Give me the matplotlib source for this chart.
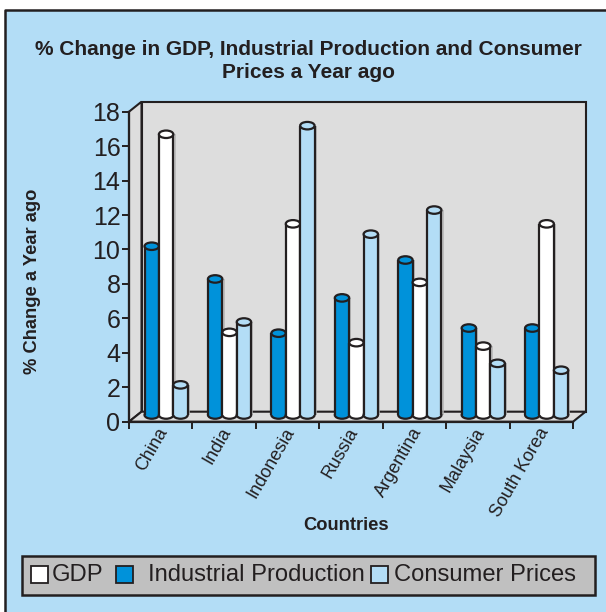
import numpy as np
import matplotlib
matplotlib.use("Agg")
import matplotlib.pyplot as plt
from matplotlib.patches import Polygon, Rectangle, Ellipse

plt.rcParams['font.family'] = ['Liberation Sans', 'DejaVu Sans']

countries = ["China", "India", "Indonesia", "Russia", "Argentina", "Malaysia", "South Korea"]
industrial = [9.8, 7.9, 4.75, 6.8, 9.0, 5.05, 5.05]
gdp = [16.3, 4.8, 11.1, 4.2, 7.7, 4.0, 11.1]
consumer = [1.75, 5.4, 16.8, 10.5, 11.9, 3.0, 2.6]
yticks = list(range(0, 20, 2))

W, H = 606, 612
BG = "#b3ddf6"
INK = "#231f20"
BLUE = "#0092da"
WALL = "#dddddd"

fig = plt.figure(figsize=(W / 100, H / 100), dpi=100, facecolor="white")


def fx(px):
    return px / W


def fy(py):
    return 1 - py / H


# outer panel, open on the right and at the bottom
fig.add_artist(Rectangle((fx(5), 0), fx(601), fy(9.5), transform=fig.transFigure,
                         facecolor=BG, edgecolor="none", zorder=-2))
fig.add_artist(plt.Line2D([fx(5), fx(5), 1], [0, fy(9.5), fy(9.5)], transform=fig.transFigure,
                          color=INK, lw=1.8, zorder=-1))

# front plane of the plot box
left, right, top, bottom = 129, 573, 111.7, 421.7
ax = fig.add_axes([fx(left), fy(bottom), fx(right - left), fy(top) - fy(bottom)])
ax.set_xlim(0, 7)
ax.set_ylim(0, 18)
ax.patch.set_visible(False)

px_x = 7 / (right - left)
px_y = 18 / (bottom - top)
dx = 12.5 * px_x
dy = 10 * px_y

# walls and floor
wall_kw = dict(facecolor=WALL, edgecolor=INK, lw=1.5, clip_on=False, zorder=1, joinstyle="miter")
ax.add_patch(Rectangle((dx, dy), 7, 18, **wall_kw))
ax.add_patch(Polygon([(0, 0), (dx, dy), (dx, 18 + dy), (0, 18)], **wall_kw))
ax.add_patch(Polygon([(0, 0), (7, 0), (7 + dx, dy), (dx, dy)], **wall_kw))

# cylinders, left to right within each group
base = 6.7 * px_y
bar_w = 14.4 * px_x
ell_w = bar_w
ell_h = 7.5 * px_y
offsets = [-1, 0, 1]
group_shift = 5.4 * px_x
series = [(industrial, BLUE), (gdp, "white"), (consumer, BG)]
idx = np.arange(len(countries)) + 0.5 + group_shift

for off, (vals, col) in zip(offsets, series):
    xs = idx + off * bar_w
    z = 3 + off * 0.1
    for x, v in zip(xs, vals):
        ax.vlines(x + bar_w / 2 + 1.2 * px_x, base, base + v, color="#b4b4b4", lw=1.1, zorder=z,
                  clip_on=False)
        ax.add_patch(Ellipse((x, base), ell_w, ell_h, facecolor=col, edgecolor=INK, lw=1.6,
                             zorder=z, clip_on=False))
    ax.bar(xs, vals, width=bar_w, bottom=base, color=col, edgecolor="none", zorder=z,
           clip_on=False)
    for x, v in zip(xs, vals):
        ax.vlines([x - bar_w / 2, x + bar_w / 2], base, base + v, color=INK, lw=1.6, zorder=z,
                  clip_on=False)
        ax.add_patch(Ellipse((x, base + v), ell_w, ell_h, facecolor=col, edgecolor=INK, lw=1.6,
                             zorder=z, clip_on=False))

# axes
for s in ["top", "right"]:
    ax.spines[s].set_visible(False)
for s in ["left", "bottom"]:
    ax.spines[s].set_color(INK)
    ax.spines[s].set_linewidth(1.6)
    ax.spines[s].set_zorder(6)
ax.set_yticks(yticks)
ax.tick_params(axis="y", labelsize=18, length=5.2, width=1.4, color=INK, labelcolor=INK, pad=1)
ax.set_xticks(np.arange(8))
ax.set_xticklabels([])
ax.tick_params(axis="x", which="major", length=5.2, width=1.4, color=INK)
ax.set_xticks(np.arange(7) + 0.5 - 4 * px_x, minor=True)
ax.set_xticklabels(countries, minor=True, rotation=60, ha="right", rotation_mode="anchor",
                   fontsize=13, color=INK)
ax.tick_params(axis="x", which="minor", length=0, pad=2)

# titles
fig.text(fx(308), fy(49.5), "% Change in GDP, Industrial Production and Consumer", fontsize=15,
         fontweight="bold", color=INK, ha="center", va="center")
fig.text(fx(308), fy(72.5), "Prices a Year ago", fontsize=15, fontweight="bold", color=INK,
         ha="center", va="center")
fig.text(fx(33), fy(281), "% Change a Year ago", fontsize=13.2, fontweight="bold", color=INK,
         rotation=90, ha="center", va="center")
fig.text(fx(346), fy(526), "Countries", fontsize=13.2, fontweight="bold", color=INK,
         ha="center", va="center")

# legend box
fig.add_artist(Rectangle((fx(22), fy(595)), fx(573), fy(556) - fy(595), transform=fig.transFigure,
                         facecolor="#c0c0c0", edgecolor=INK, lw=1.8))
legend_items = [("GDP", "white", 31, 52), ("Industrial Production", BLUE, 116, 148),
                ("Consumer Prices", BG, 371, 394)]
for label, col, box_x, text_x in legend_items:
    fig.add_artist(Rectangle((fx(box_x), fy(582.5)), fx(17), fy(565.5) - fy(582.5),
                             transform=fig.transFigure, facecolor=col, edgecolor=INK, lw=1.3))
    fig.text(fx(text_x), fy(575), label, fontsize=17.1, color=INK, ha="left", va="center")

fig.savefig("out.png", dpi=100, facecolor=fig.get_facecolor())
